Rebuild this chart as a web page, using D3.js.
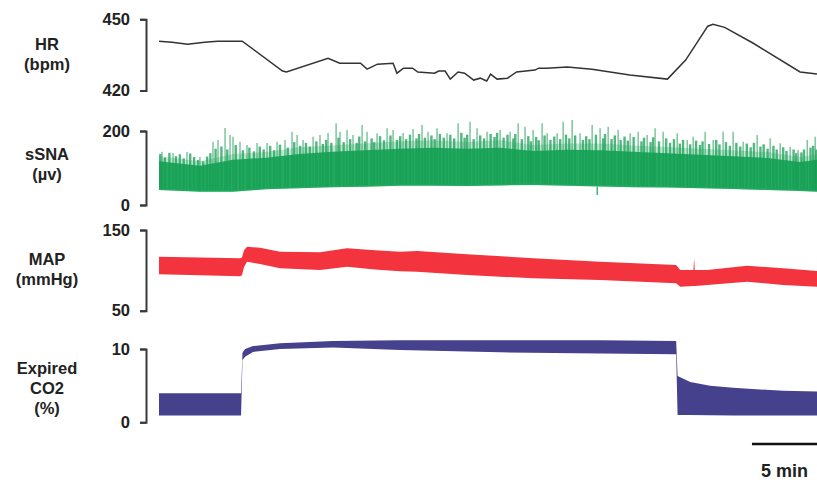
<!DOCTYPE html>
<html>
<head>
<meta charset="utf-8">
<script src="https://cdn.jsdelivr.net/npm/d3@7"></script>
<style>
  body { margin: 0; background: #fff; }
  svg text { font-family: "Liberation Sans", Arial, sans-serif; font-weight: bold; fill: #222; }
</style>
</head>
<body>
<svg id="chart" width="817" height="484"></svg>
<script>
// time in minutes from start of the record
const totalMin = 50.6;

// heart rate (bpm)
const hrTime = [0, 1.0, 2.2, 3.5, 4.5, 6.4, 9.5, 9.8, 13.0, 13.9, 15.5, 16.0, 16.8, 18.0, 18.3, 18.8, 19.5, 19.9,
    21.2, 21.5, 22.0, 22.4, 23.0, 23.5, 24.2, 24.7, 25.2, 25.5, 26.0, 26.8, 27.5, 28.9, 29.2, 29.8, 31.4, 33.3,
    36.2, 39.1, 40.5, 42.2, 42.6, 43.5, 45.7, 49.3, 50.6];
const hrValues = [440.8, 440.3, 439.5, 440.3, 440.8, 440.8, 428.2, 427.8, 433.6, 431.5, 431.5, 429.0, 431.1, 431.5,
    427.3, 429.4, 429.4, 427.8, 427.3, 428.2, 428.2, 424.8, 427.8, 427.3, 424.4, 425.2, 424.0, 426.9, 424.8, 425.2,
    427.8, 428.6, 429.4, 429.4, 429.9, 429.0, 426.5, 424.8, 432.8, 447.1, 447.9, 446.6, 439.9, 427.8, 426.9];

// sSNA (µv): dense part of the burst activity
const snaTime = [0, 3.15, 5.69, 8.23, 10.77, 13.31, 15.85, 18.54, 21.08, 23.69, 26.23, 28.77, 31.38, 33.92,
    36.46, 39.08, 41.62, 44.15, 46.77, 49.31, 50.6];
const snaLow = [40.5, 36, 36, 42.4, 45.1, 47.8, 49.5, 52, 52, 51.4, 53, 54, 52, 50, 48, 47, 45, 43, 40.5, 38, 36];
const snaSolid = [118, 106, 122, 128, 138, 144, 148, 152, 155, 152, 155, 146, 149, 148, 144, 140, 136, 132, 127, 116, 122];
const snaHaze = [132, 118, 138, 143, 156, 161, 166, 172, 175, 170, 175, 162, 166, 166, 161, 157, 152, 148, 143, 130, 138];
// single bursts reaching above the dense part
const burstTime = [0.1, 0.45, 0.8, 1.3, 1.6, 1.9, 2.4, 2.7, 3.0, 3.4, 3.7, 3.95, 4.35, 4.8, 5.25, 5.9, 6.45,
    6.95, 7.3, 7.75, 8.05, 8.55, 8.85, 9.3, 9.9, 10.4, 10.85, 11.3, 11.6, 12.1, 12.6, 12.85, 13.25, 13.8, 14.2,
    14.7, 15.2, 15.4, 15.85, 16.35, 16.55, 17.0, 17.3, 17.8, 18.3, 18.55, 19.0, 19.3, 19.8, 20.0, 20.45, 20.95,
    21.2, 21.6, 21.9, 22.4, 22.7, 23.25, 23.5, 23.7, 24.2, 24.7, 25.0, 25.5, 25.8, 26.0, 26.5, 26.8, 27.25,
    27.4, 27.9, 28.4, 28.6, 29.0, 29.2, 29.65, 30.1, 30.4, 30.85, 31.3, 31.55, 32.0, 32.6, 32.85, 33.1, 33.6,
    34.15, 34.3, 34.8, 35.05, 35.5, 35.8, 36.05, 36.5, 37.1, 37.3, 37.8, 38.0, 38.45, 39.0, 39.3, 39.6, 40.05,
    40.3, 40.85, 41.3, 41.6, 41.8, 42.3, 42.85, 43.1, 43.6, 43.9, 44.4, 44.7, 45.2, 45.5, 45.75, 46.25, 46.5,
    46.8, 47.25, 47.5, 48.0, 48.25, 48.8, 49.0, 49.4, 49.6, 50.1, 50.3, 50.55];
const burstValues = [138, 128, 141, 132, 137, 126, 139, 130, 122, 118, 131, 140, 152, 158, 150, 162, 148,
    155, 145, 158, 150, 160, 148, 163, 155, 170, 160, 168, 158, 172, 165, 176, 168, 182, 170,
    178, 168, 185, 172, 180, 170, 186, 175, 188, 176, 186, 178, 190, 180, 192, 182, 188,
    178, 192, 182, 190, 180, 195, 182, 190, 178, 188, 180, 192, 184, 195, 182, 190, 180,
    192, 178, 186, 172, 184, 175, 188, 176, 185, 178, 190, 180, 188, 176, 186, 178, 190,
    180, 192, 178, 188, 176, 185, 174, 184, 172, 182, 170, 183, 172, 180, 168, 178, 166,
    176, 164, 174, 162, 172, 165, 176, 164, 170, 160, 168, 158, 166, 156, 168, 158, 164,
    152, 160, 150, 156, 146, 150, 140, 142, 150, 155, 160, 150];
// tallest bursts
const spikeTime = [0.23, 1.08, 2.15, 3.15, 4.15, 4.54, 5.08, 5.46, 5.69, 6.23, 6.77, 7.54, 8.31, 9.08, 9.69,
    10.23, 10.62, 11.08, 11.85, 12.38, 13.0, 13.62, 13.92, 14.46, 14.92, 15.62, 16.0, 16.77, 17.54, 18.0, 18.77,
    19.54, 20.23, 20.69, 21.38, 22.15, 23.0, 23.92, 24.46, 25.23, 26.23, 27.0, 27.62, 28.15, 28.77, 29.46, 29.85,
    30.62, 31.08, 31.77, 32.38, 33.31, 33.92, 34.54, 35.31, 36.23, 36.85, 37.54, 38.15, 38.77, 39.85, 40.62,
    41.08, 42.0, 42.62, 43.38, 44.15, 44.92, 46.0, 47.0, 47.77, 48.54, 49.15, 49.85, 50.46];
const spikeValues = [144, 140.5, 143.2, 129.7, 171.1, 175.7, 208.1, 189.2, 184.6, 171.1, 162.2, 167.6, 167.6,
    171.1, 175.7, 198.1, 189.2, 175.7, 184.6, 189.2, 194.6, 220.8, 198.1, 202.7, 189.2, 216.2, 198.1, 193.8,
    207.3, 202.7, 194.6, 205.4, 216.2, 198.1, 207.3, 193.8, 220.8, 225.1, 207.3, 198.1, 202.7, 198.1, 220.8,
    211.6, 202.7, 220.8, 193.8, 193.8, 225.1, 229.7, 193.8, 216.2, 207.3, 211.6, 202.7, 193.8, 198.1, 189.2,
    207.3, 198.1, 193.8, 175.7, 184.6, 198.1, 175.7, 198.1, 198.1, 171.1, 189.2, 180.3, 166.8, 157.6, 148.6,
    175.7, 184.6];

// mean arterial pressure (mmHg), pulse band
const mapTime = [0, 3.15, 6.23, 6.38, 6.54, 6.77, 7.77, 9.31, 12.38, 14.46, 16.6, 18.54, 19.85, 23.69, 28.77,
    33.92, 39.77, 40.08, 41.1, 41.15, 41.2, 42.15, 45.23, 48.0, 50.6];
const mapHigh = [116.9, 116, 115, 116, 125, 129.3, 128, 123, 122.4, 127.3, 125, 123, 124, 119.9, 115, 110.8,
    106.6, 100.4, 100.4, 115, 100.4, 100.4, 105.8, 102.6, 99.2];
const mapLow = [95.1, 94, 92.6, 94, 104, 110.7, 108, 102.6, 100.4, 104.5, 101, 99, 98.4, 94.2, 90.1, 88, 84,
    79.8, 80.5, 80.5, 80.5, 81.8, 86, 81.8, 79.8];

// expired CO2 (%)
const co2Time = [0, 6.31, 6.42, 6.62, 7.23, 9.31, 13.38, 18.54, 26.23, 33.92, 39.77, 39.88, 40.85, 42.38, 44.15, 48.0, 50.6];
const co2High = [3.95, 3.95, 9.5, 10.0, 10.4, 10.8, 11.1, 11.2, 11.2, 11.2, 11.1, 6.3, 5.5, 5.0, 4.7, 4.3, 4.2];
const co2Low = [0.92, 0.92, 8.5, 8.95, 9.6, 10.0, 10.2, 9.86, 9.55, 9.4, 9.3, 1.0, 1.0, 0.95, 0.92, 0.92, 0.92];

const scaleBarMin = 5;

const svg = d3.select('#chart');
const x = d3.scaleLinear().domain([0, totalMin]).range([159, 817]);

const panels = [
    { label: ['HR', '(bpm)'], domain: [420, 450], range: [90.5, 19.3], labelY: 44 },
    { label: ['sSNA', '(\u00b5v)'], domain: [0, 200], range: [205, 131], labelY: 154 },
    { label: ['MAP', '(mmHg)'], domain: [50, 150], range: [310.7, 230], labelY: 259 },
    { label: ['Expired', 'CO2', '(%)'], domain: [0, 10], range: [422.3, 349], labelY: 368 },
];

panels.forEach((p) => {
    p.y = d3.scaleLinear().domain(p.domain).range(p.range);
    const axis = d3.axisLeft(p.y).tickValues(p.domain).tickSize(6).tickPadding(10);
    const g = svg.append('g').attr('transform', 'translate(146,0)').call(axis);
    g.select('.domain').attr('stroke', '#3a3a3a').attr('stroke-width', 2);
    g.selectAll('.tick line').attr('stroke', '#3a3a3a').attr('stroke-width', 2);
    g.selectAll('.tick text').style('font-size', '16.5px').attr('fill', '#222').attr('font-family', null);

    const t = svg.append('text')
        .attr('x', 47)
        .attr('y', p.labelY)
        .attr('text-anchor', 'middle')
        .style('font-size', '16.5px');
    p.label.forEach((s, i) => {
        t.append('tspan').attr('x', 47).attr('dy', i === 0 ? '0.35em' : 20).text(s);
    });
});

// HR trace
const yHR = panels[0].y;
svg.append('path')
    .datum(hrTime.map((t, i) => [t, hrValues[i]]))
    .attr('fill', 'none')
    .attr('stroke', '#333')
    .attr('stroke-width', 1.5)
    .attr('d', d3.line().x((d) => x(d[0])).y((d) => yHR(d[1])));

// sSNA
const ySNA = panels[1].y;
const sna = snaTime.map((t, i) => ({ t, lo: snaLow[i], so: snaSolid[i], hz: snaHaze[i] }));
svg.append('path')
    .datum(sna)
    .attr('fill', '#2aad66')
    .attr('opacity', 0.3)
    .attr('d', d3.area().x((d) => x(d.t)).y0((d) => ySNA(d.lo)).y1((d) => ySNA(d.hz)));
svg.append('path')
    .datum(sna)
    .attr('fill', '#22aa60')
    .attr('d', d3.area().x((d) => x(d.t)).y0((d) => ySNA(d.lo)).y1((d) => ySNA(d.so)));
const lowAt = d3.scaleLinear().domain(snaTime).range(snaLow);
svg.append('g').selectAll('line')
    .data(burstTime.map((t, i) => [t, burstValues[i]]))
    .join('line')
    .attr('x1', (d) => x(d[0]))
    .attr('x2', (d) => x(d[0]))
    .attr('y1', (d) => ySNA(lowAt(d[0]) + 4))
    .attr('y2', (d) => ySNA(d[1]))
    .attr('stroke', '#17a055')
    .attr('stroke-width', 2.4)
    .attr('opacity', 0.75);
svg.append('g').selectAll('line')
    .data(spikeTime.map((t, i) => [t, spikeValues[i]]))
    .join('line')
    .attr('x1', (d) => x(d[0]))
    .attr('x2', (d) => x(d[0]))
    .attr('y1', (d) => ySNA(lowAt(d[0]) + 4))
    .attr('y2', (d) => ySNA(d[1]))
    .attr('stroke', '#13994e')
    .attr('stroke-width', 1.5)
    .attr('opacity', 0.55);
// dip below baseline
svg.append('line')
    .attr('x1', x(33.7)).attr('x2', x(33.7))
    .attr('y1', ySNA(50)).attr('y2', ySNA(27))
    .attr('stroke', '#3db672').attr('stroke-width', 1.5);

// MAP band
const yMAP = panels[2].y;
svg.append('path')
    .datum(mapTime.map((t, i) => [t, mapLow[i], mapHigh[i]]))
    .attr('fill', '#f3333d')
    .attr('d', d3.area().x((d) => x(d[0])).y0((d) => yMAP(d[1])).y1((d) => yMAP(d[2])));

// CO2 band
const yCO2 = panels[3].y;
svg.append('path')
    .datum(co2Time.map((t, i) => [t, co2Low[i], co2High[i]]))
    .attr('fill', '#46418d')
    .attr('d', d3.area().x((d) => x(d[0])).y0((d) => yCO2(d[1])).y1((d) => yCO2(d[2])));

// scale bar
svg.append('line')
    .attr('x1', x(totalMin - scaleBarMin)).attr('x2', x(totalMin))
    .attr('y1', 444).attr('y2', 444)
    .attr('stroke', '#111').attr('stroke-width', 2.5);
svg.append('text')
    .attr('x', (x(totalMin - scaleBarMin) + x(totalMin)) / 2)
    .attr('y', 471)
    .attr('dy', '0.35em')
    .attr('text-anchor', 'middle')
    .style('font-size', '18px')
    .text(`${scaleBarMin} min`);
</script>
</body>
</html>
